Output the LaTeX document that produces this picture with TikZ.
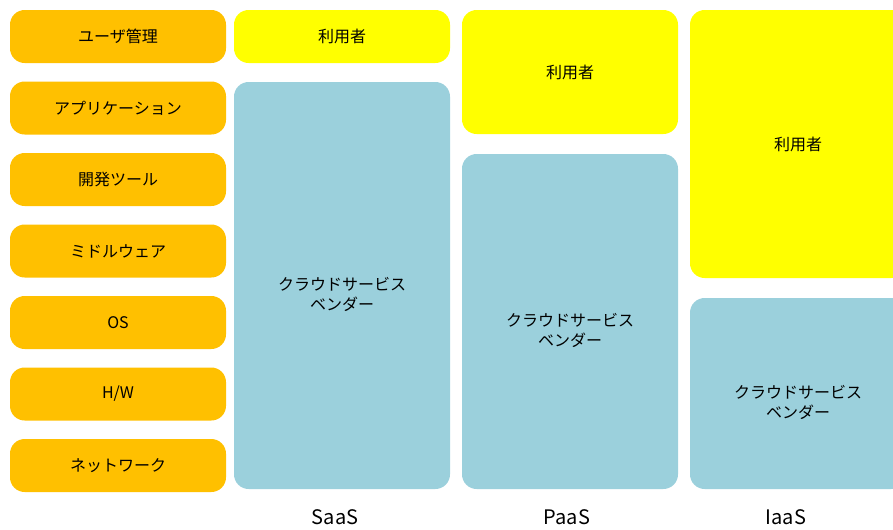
\documentclass[tikz,border=0pt]{standalone}
\usepackage{fontspec}
\setmainfont{Noto Sans CJK JP}
\usetikzlibrary{positioning}
\definecolor{layerorange}{HTML}{FFC000}
\definecolor{useryellow}{HTML}{FFFF00}
\definecolor{vendorblue}{HTML}{9BD0DC}

\begin{document}
\begin{tikzpicture}[x=0.75pt, y=-0.75pt,
    layerbox/.style={fill=layerorange, rounded corners=11pt, inner sep=0pt,
        minimum width=162pt, minimum height=39.75pt, font=\fontsize{12}{15}\selectfont},
    userbox/.style={fill=useryellow, rounded corners=11pt, inner sep=0pt,
        minimum width=162pt, font=\fontsize{12}{15}\selectfont},
    vendorbox/.style={fill=vendorblue, rounded corners=11pt, inner sep=0pt,
        minimum width=162pt},
    vendortext/.style={align=center, font=\fontsize{12}{15}\selectfont},
    modeltext/.style={font=\fontsize{15}{18}\selectfont}]
    \useasboundingbox (0,0) rectangle (893,529);
    \clip (0,0) rectangle (893,529);
    % Layers on the left
    \foreach \i/\name/\txt in {0/user/ユーザ管理, 1/app/アプリケーション, 2/dev/開発ツール,
        3/mw/ミドルウェア, 4/os/OS, 5/hw/{H/W}, 6/net/ネットワーク} {
        \node[layerbox] (\name) at (118, 36.5+71.5*\i) {\txt};
    }
    % SaaS
    \node[userbox, minimum height=39.75pt] (saasuser) at (342, 36.5) {利用者};
    \node[vendorbox, minimum height=305.25pt] (saasvendor) at (342, 285.5) {};
    \node[vendortext] (saasvtext) at ([yshift=-7pt]saasvendor.center) {クラウドサービス\\ベンダー};
    \node[modeltext] (saas) at (335, 517) {SaaS};
    % PaaS
    \node[userbox, minimum height=93pt] (paasuser) at (570, 72) {利用者};
    \node[vendorbox, minimum height=251.25pt] (paasvendor) at (570, 321.5) {};
    \node[vendortext] (paasvtext) at ([yshift=-7pt]paasvendor.center) {クラウドサービス\\ベンダー};
    \node[modeltext] (paas) at (567, 517) {PaaS};
    % IaaS
    \node[userbox, minimum height=201pt] (iaasuser) at (798, 144) {利用者};
    \node[vendorbox, minimum height=143.25pt] (iaasvendor) at (798, 393.5) {};
    \node[vendortext] (iaasvtext) at ([yshift=-7pt]iaasvendor.center) {クラウドサービス\\ベンダー};
    \node[modeltext] (iaas) at (786, 517) {IaaS};
\end{tikzpicture}
\end{document}
